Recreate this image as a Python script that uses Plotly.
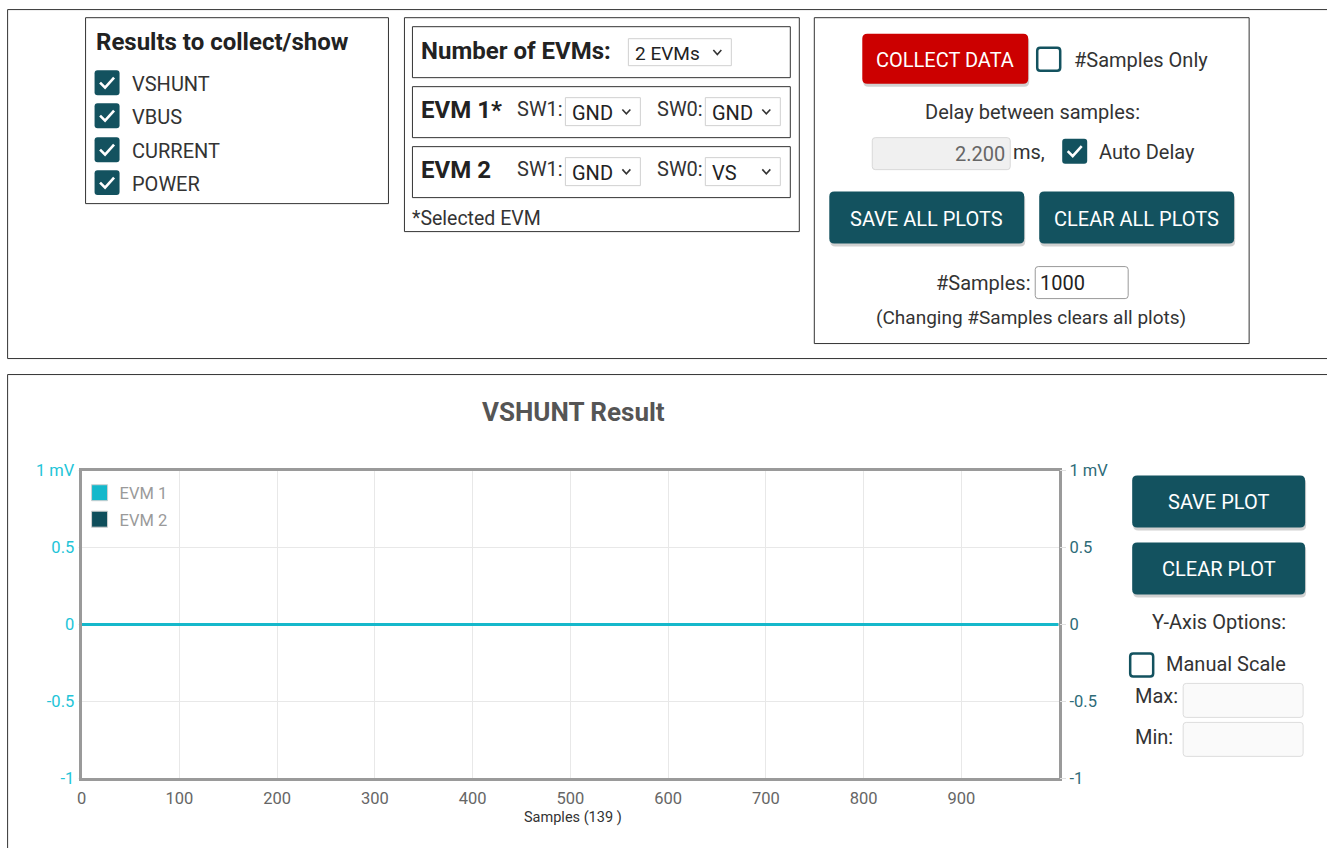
import plotly.graph_objects as go

W, H = 1327, 848
FONT = "Roboto"
TEAL = "#13525F"
RED = "#CC0000"
CYAN = "#15B8CB"
DARK = "#222222"

# ---------------- data ----------------
sample_index = list(range(1000))
evm1_vshunt_mV = [0.0] * 1000   # flat at 0 mV
evm2_vshunt_mV = [0.0] * 1000   # flat at 0 mV
series_names = ["EVM 1", "EVM 2"]
x_tick_vals = [0, 100, 200, 300, 400, 500, 600, 700, 800, 900]
y_tick_vals = [-1, -0.5, 0, 0.5, 1]
y_tick_text = ["-1", "-0.5", "0", "0.5", "1 mV"]
samples_collected = 139

# screen-position calibration (photo maps page px -> picture px slightly scaled)
SX, OX = 0.9966, 4.4
SY, OY = 0.978, 8.3

def px(x):
    return ((x - OX) / SX) / W

def py(y):
    return 1 - ((y - OY) / SY) / H

shapes = []
annots = []

def rect(x0, y0, x1, y1, line="#333", fill="rgba(0,0,0,0)", lw=1):
    shapes.append(dict(type="rect", xref="paper", yref="paper",
                       x0=px(x0), x1=px(x1), y0=py(y1), y1=py(y0),
                       line=dict(color=line, width=lw), fillcolor=fill, layer="above"))

def rrect(x0, y0, x1, y1, r=4, fill="#fff", line="rgba(0,0,0,0)", lw=0):
    pts = (f"M {px(x0+r)},{py(y0)} L {px(x1-r)},{py(y0)} Q {px(x1)},{py(y0)} {px(x1)},{py(y0+r)} "
           f"L {px(x1)},{py(y1-r)} Q {px(x1)},{py(y1)} {px(x1-r)},{py(y1)} "
           f"L {px(x0+r)},{py(y1)} Q {px(x0)},{py(y1)} {px(x0)},{py(y1-r)} "
           f"L {px(x0)},{py(y0+r)} Q {px(x0)},{py(y0)} {px(x0+r)},{py(y0)} Z")
    shapes.append(dict(type="path", xref="paper", yref="paper", path=pts,
                       fillcolor=fill, line=dict(color=line, width=lw), layer="above"))

def text(x, y, s, size=20, color=DARK, weight=400, anchor="left"):
    annots.append(dict(x=px(x), y=py(y), xref="paper", yref="paper", text=s,
                       showarrow=False, xanchor=anchor, yanchor="middle",
                       xshift=-2 if anchor == "left" else (2 if anchor == "right" else 0),
                       font=dict(family=FONT, size=size, color=color, weight=weight)))

def button(x0, y0, x1, y1, label, fill, size=20):
    rrect(x0 + 1, y0 + 3, x1 + 1, y1 + 3, r=5, fill="rgba(0,0,0,0.18)")
    rrect(x0, y0, x1, y1, r=5, fill=fill)
    text((x0 + x1) / 2, (y0 + y1) / 2 + 1, label, size=size, color="#ffffff", anchor="center")

def checkbox(x, y, checked, s=25):
    if checked:
        rrect(x, y, x + s, y + s, r=3, fill=TEAL)
        p = (f"M {px(x+5.5)},{py(y+12.5)} L {px(x+10.5)},{py(y+17.5)} L {px(x+19.5)},{py(y+7.5)}")
        shapes.append(dict(type="path", xref="paper", yref="paper", path=p,
                           line=dict(color="#ffffff", width=2.6), layer="above"))
    else:
        rrect(x + 1, y + 1, x + s - 1, y + s - 1, r=3, fill="#ffffff", line=TEAL, lw=2.5)

def chevron(cx, cy, w=8, h=4.5, color="#333"):
    p = f"M {px(cx-w/2)},{py(cy-h/2)} L {px(cx)},{py(cy+h/2)} L {px(cx+w/2)},{py(cy-h/2)}"
    shapes.append(dict(type="path", xref="paper", yref="paper", path=p,
                       line=dict(color=color, width=1.6), layer="above"))

def dropdown(x0, y0, x1, y1, label, size=20):
    rect(x0, y0, x1, y1, line="#d0d0d0", fill="#ffffff", lw=1)
    text(x0 + 7, (y0 + y1) / 2 + 1, label, size=size, color=DARK)
    chevron(x1 - 14, (y0 + y1) / 2)

# ---------------- outer panels ----------------
shapes.append(dict(type="rect", xref="paper", yref="paper", x0=px(7), x1=1.05,
                   y0=py(358), y1=0.9993, line=dict(color="#333", width=1), layer="above"))
shapes.append(dict(type="rect", xref="paper", yref="paper", x0=px(7), x1=1.05,
                   y0=-0.05, y1=py(374), line=dict(color="#333", width=1), layer="above"))

# ---------------- box 1 ----------------
rect(85, 17, 388, 203, line="#333")
text(95, 41, "Results to collect/show", size=24, weight=700, color=DARK)
for lab, cy in zip(["VSHUNT", "VBUS", "CURRENT", "POWER"], [82, 115, 149, 182]):
    checkbox(94, cy - 12.5, True)
    text(131, cy + 1, lab, size=20, color="#333")

# ---------------- box 2 ----------------
rect(404, 17, 799, 231, line="#333")
rect(412, 26, 790, 77, line="#333")
text(421, 50, "Number of EVMs:", size=24, weight=700)
dropdown(628, 38, 731, 65, "2 EVMs", size=19)
rect(412, 86, 790, 137, line="#333")
text(421, 109, "EVM 1*", size=24, weight=700)
text(517, 108, "SW1:", size=20, color="#333")
dropdown(565, 97, 640, 125, "GND")
text(657, 108, "SW0:", size=20, color="#333")
dropdown(705, 97, 780, 125, "GND")
rect(412, 146, 790, 197, line="#333")
text(421, 169, "EVM 2", size=24, weight=700)
text(517, 168, "SW1:", size=20, color="#333")
dropdown(565, 157, 640, 185, "GND")
text(657, 168, "SW0:", size=20, color="#333")
dropdown(705, 157, 780, 185, "VS")
text(412, 218, "*Selected EVM", size=19.5, color="#333")

# ---------------- box 3 ----------------
rect(814, 17, 1249, 343, line="#333")
button(862, 33, 1028, 83, "COLLECT DATA", RED)
checkbox(1036, 46, False)
text(1074, 59, "#Samples Only", size=20, color="#333")
text(1032, 111, "Delay between samples:", size=20, color="#333", anchor="center")
rrect(872, 137, 1010, 169, r=3, fill="#f0f0f0", line="#d8d8d8", lw=1)
text(1005, 153, "2.200", size=20, color="#666", anchor="right")
text(1013, 151, "ms,", size=20, color="#333")
checkbox(1062, 138, True)
text(1099, 151, "Auto Delay", size=20, color="#333")
button(829, 191, 1024, 243, "SAVE ALL PLOTS", TEAL)
button(1039, 191, 1234, 243, "CLEAR ALL PLOTS", TEAL)
text(1030, 282, "#Samples:", size=20, color="#333", anchor="right")
rrect(1035, 266, 1128, 298, r=3, fill="#ffffff", line="#999", lw=1)
text(1040, 282, "1000", size=20, color=DARK)
text(1031, 317, "(Changing #Samples clears all plots)", size=19, color="#333", anchor="center")

# ---------------- right-side plot controls ----------------
button(1132, 475, 1305, 527, "SAVE PLOT", TEAL)
button(1132, 542, 1305, 594, "CLEAR PLOT", TEAL)
text(1219, 622, "Y-Axis Options:", size=20, color="#333", anchor="center")
checkbox(1129, 652, False)
text(1166, 664, "Manual Scale", size=20, color="#333")
text(1135, 696, "Max:", size=20, color="#333")
rrect(1183, 683, 1303, 717, r=3, fill="#fafafa", line="#dddddd", lw=1)
text(1135, 737, "Min:", size=20, color="#333")
rrect(1183, 722, 1303, 756, r=3, fill="#fafafa", line="#dddddd", lw=1)

# ---------------- chart ----------------
text(573, 411, "VSHUNT Result", size=26, color="#555", weight=700, anchor="center")
text(573, 817, f"Samples ({samples_collected} )", size=14.5, color="#333", anchor="center")

fig = go.Figure()
fig.add_trace(go.Scatter(x=sample_index, y=evm2_vshunt_mV, mode="lines",
                         line=dict(color="#0F4E5B", width=3), showlegend=False))
fig.add_trace(go.Scatter(x=sample_index, y=evm1_vshunt_mV, mode="lines",
                         line=dict(color=CYAN, width=3), showlegend=False))
for name, col in zip(series_names, [CYAN, "#0F4E5B"]):
    fig.add_trace(go.Scatter(x=[None], y=[None], mode="markers", name=name,
                             legendgroup=name,
                             marker=dict(symbol="square", size=17, color=col,
                                         line=dict(color="#d0d0d0", width=1))))
# invisible trace on y2 so the right axis renders
fig.add_trace(go.Scatter(x=[None], y=[None], yaxis="y2", showlegend=False))

fig.update_layout(
    width=W, height=H, autosize=False,
    margin=dict(l=0, r=0, t=0, b=0),
    paper_bgcolor="#ffffff", plot_bgcolor="#ffffff",
    font=dict(family=FONT),
    shapes=shapes, annotations=annots,
    xaxis=dict(domain=[px(81), px(1059)], range=[0, 1000], tickvals=x_tick_vals,
               showgrid=True, gridcolor="#e8e8e8", gridwidth=1, zeroline=False,
               showline=True, linecolor="#9a9a9a", linewidth=3, mirror=True,
               ticks="", tickfont=dict(size=16.5, color="#666"), ticklabelstandoff=3),
    yaxis=dict(domain=[py(778), py(470)], range=[-1, 1], tickvals=y_tick_vals,
               ticktext=y_tick_text, showgrid=True, gridcolor="#e8e8e8", zeroline=False,
               showline=True, linecolor="#9a9a9a", linewidth=3, mirror=True,
               ticks="outside", ticklen=1, tickcolor="#f2f2f2",
               tickfont=dict(size=16.5, color="#22C4D8")),
    yaxis2=dict(overlaying="y", side="right", range=[-1, 1], tickvals=y_tick_vals,
                ticktext=y_tick_text, showgrid=False, zeroline=False, showline=False,
                ticks="outside", ticklen=6, tickcolor="#e0e0e0",
                tickfont=dict(size=16.5, color="#2E6B78")),
    legend=dict(x=px(79), y=py(475), xanchor="left", yanchor="top",
                bgcolor="rgba(0,0,0,0)", font=dict(size=16.5, color="#9a9a9a"),
                itemwidth=30, tracegroupgap=2),
)

fig.write_html("out.html",
               config={"displayModeBar": False, "responsive": False},
               post_script="document.body.style.margin='0';document.body.style.overflow='hidden';"
                           "document.documentElement.style.overflow='hidden';")
